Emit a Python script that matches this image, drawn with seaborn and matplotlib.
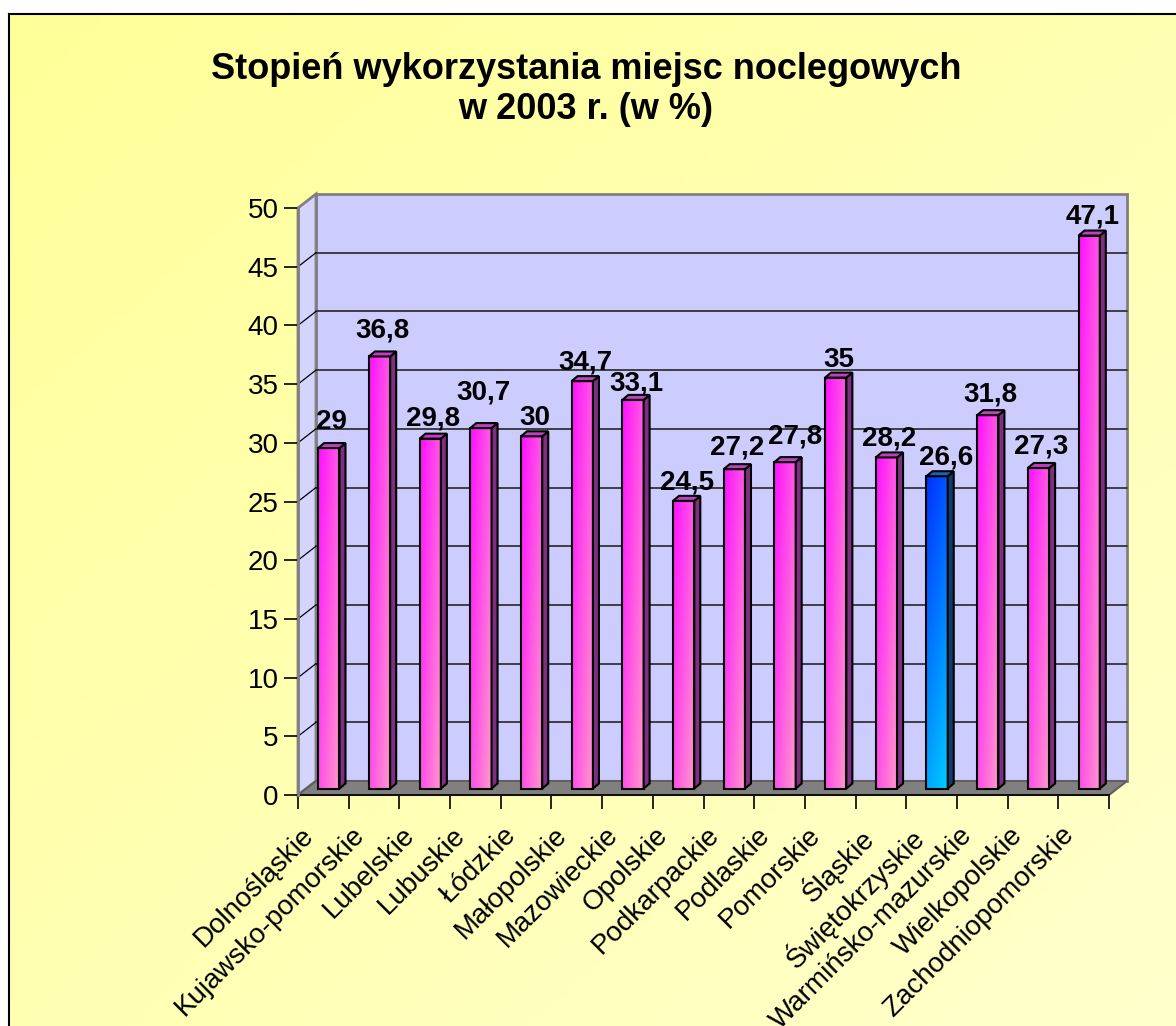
import matplotlib
matplotlib.use('Agg')
import matplotlib.pyplot as plt
import matplotlib.transforms as mtransforms
from matplotlib.colors import LinearSegmentedColormap
from matplotlib.patches import Polygon, Rectangle
import numpy as np
import pandas as pd
import seaborn as sns

# data
regions = ['Dolnośląskie', 'Kujawsko-pomorskie', 'Lubelskie', 'Lubuskie', 'Łódzkie',
           'Małopolskie', 'Mazowieckie', 'Opolskie', 'Podkarpackie', 'Podlaskie',
           'Pomorskie', 'Śląskie', 'Świętokrzyskie', 'Warmińsko-mazurskie',
           'Wielkopolskie', 'Zachodniopomorskie']
values = [29, 36.8, 29.8, 30.7, 30, 34.7, 33.1, 24.5, 27.2, 27.8, 35, 28.2, 26.6, 31.8, 27.3, 47.1]
highlight = 'Świętokrzyskie'
y_ticks = [0, 5, 10, 15, 20, 25, 30, 35, 40, 45, 50]
title = 'Stopień wykorzystania miejsc noclegowych\nw 2003 r. (w %)'

# label placement (pixels) as the original chart nudged them apart
label_dy = [19, 19, 13, 29, 11, 12, 9, 11, 15, 19, 11, 12, 12, 14, 14, 12]
label_dx = [0, 0, 0, 0, 0, 0, 0, 0, 0, 7, 0, 0, 6, 0, 0, 0]

sns.set_theme(style='white')
plt.rcParams['font.family'] = ['Liberation Sans', 'DejaVu Sans']
plt.rcParams['text.color'] = 'black'
plt.rcParams['xtick.color'] = 'black'
plt.rcParams['ytick.color'] = 'black'

W, H = 1176, 1026
fig = plt.figure(figsize=(W / 100, H / 100), dpi=100)
fig.patch.set_facecolor('white')

# yellow gradient frame
bg = fig.add_axes([9 / W, 0, 1 - 9 / W, 1 - 14 / H], zorder=0)
gi, gj = np.mgrid[0:100, 0:100]
yellow = LinearSegmentedColormap.from_list('yel', ['#FFFF99', '#FFFFCC'])
bg.imshow((gi + gj) / 198.0, cmap=yellow, aspect='auto', extent=[0, 1, 0, 1])
bg.set_xticks([])
bg.set_yticks([])
bg.spines['right'].set_visible(False)
bg.spines['bottom'].set_visible(False)
for s in ['left', 'top']:
    bg.spines[s].set_color('black')
    bg.spines[s].set_linewidth(1.5)

ax = fig.add_axes([298 / W, (H - 795) / H, 811 / W, 587 / H], zorder=1)
df = pd.DataFrame({'region': regions, 'value': values})
sns.barplot(data=df, x='region', y='value', ax=ax, width=0.42, color='#FF66FF',
            saturation=1, edgecolor='black', linewidth=1.5, zorder=5)
bars = list(ax.patches)
ax.patch.set_alpha(0)

x0, x1 = -0.5, len(regions) - 0.5
sx = ax.bbox.width / (x1 - x0)
sy = ax.bbox.height / 50.0
dx, dy = 18 / sx, 14 / sy     # wall depth
bx, by = 5.5 / sx, 6.5 / sy   # bar position in depth
ddx, ddy = 6 / sx, 5 / sy     # bar depth

# walls and floor
ax.add_patch(Rectangle((x0 + dx, dy), x1 - x0, 50, fc='#CCCCFF', ec='#808080', lw=2,
                       zorder=0, clip_on=False))
ax.add_patch(Polygon([(x0, 0), (x0, 50), (x0 + dx, 50 + dy), (x0 + dx, dy)],
                     fc='#D4D4FF', ec='#808080', lw=2, zorder=0, clip_on=False))
ax.add_patch(Polygon([(x0, 0), (x1, 0), (x1 + dx, dy), (x0 + dx, dy)],
                     fc='#808080', ec='#606060', lw=1.5, zorder=1, clip_on=False))
for v in y_ticks[1:-1]:
    ax.plot([x0 + dx, x1 + dx], [v + dy, v + dy], color='#333333', lw=1.3, zorder=0.5,
            clip_on=False)
    ax.plot([x0, x0 + dx], [v, v + dy], color='black', lw=0.9, zorder=0.5, clip_on=False)

pink = LinearSegmentedColormap.from_list('pink', ['#FF10FF', '#FF99CC'])
blue = LinearSegmentedColormap.from_list('blue', ['#0030FF', '#00CCFF'])
ri, ci = np.mgrid[0:64, 0:16]
shade = 0.55 * ci / 15.0 + 0.45 * ri / 63.0
shade_blue = 0.25 * ci / 15.0 + 0.75 * ri / 63.0

for p, name, val, ldy, ldx in zip(bars, regions, values, label_dy, label_dx):
    x = p.get_x() + bx
    w = p.get_width()
    h = p.get_height()
    p.set_x(x)
    p.set_y(by)
    p.set_facecolor('none')
    if name == highlight:
        cmap, img, side_c, top_c = blue, shade_blue, '#0B3D6E', '#1565B5'
    else:
        cmap, img, side_c, top_c = pink, shade, '#7F2F7F', '#C040C0'
    im = ax.imshow(img, cmap=cmap, vmin=0, vmax=1, extent=[x, x + w, by, by + h],
                   aspect='auto', zorder=4, origin='upper')
    im.set_clip_path(p)
    ax.add_patch(Polygon([(x + w, by), (x + w, by + h), (x + w + ddx, by + h + ddy),
                          (x + w + ddx, by + ddy)], fc=side_c, ec='black', lw=1.5, zorder=6))
    ax.add_patch(Polygon([(x, by + h), (x + w, by + h), (x + w + ddx, by + h + ddy),
                          (x + ddx, by + h + ddy)], fc=top_c, ec='black', lw=1.5, zorder=6))
    ax.annotate(f'{val:g}'.replace('.', ','), xy=(x + w / 2 + ddx / 2, by + h),
                xytext=(ldx, ldy), textcoords='offset pixels', ha='center', va='baseline',
                fontsize=20, fontweight='bold', color='black', zorder=7, annotation_clip=False)

ax.set_xlim(x0, x1)
ax.set_ylim(0, 50)
ax.set_xlabel('')
ax.set_ylabel('')

for s in ['top', 'right']:
    ax.spines[s].set_visible(False)
ax.spines['left'].set_color('#808080')
ax.spines['left'].set_linewidth(2)
ax.spines['bottom'].set_color('black')
ax.spines['bottom'].set_linewidth(1.2)
ax.spines['bottom'].set_zorder(2)

ax.set_yticks(y_ticks)
ax.tick_params(axis='y', left=True, length=10, width=1.2, color='black', labelsize=20,
               pad=4, labelcolor='black')
ax.set_xticks(range(len(regions)))
ax.set_xticks(np.arange(x0, x1 + 0.5, 1), minor=True)
ax.tick_params(axis='x', which='major', length=0, pad=19.5, labelsize=20, labelcolor='black')
ax.tick_params(axis='x', which='minor', bottom=True, length=10, width=1.2, color='black')
ax.set_xticklabels(regions, rotation=45, ha='right', rotation_mode='anchor')
shift = mtransforms.ScaledTranslation(-23 / 100, 0, fig.dpi_scale_trans)
for lbl in ax.get_xticklabels():
    lbl.set_transform(lbl.get_transform() + shift)

fig.text(586 / W, 1 - 52 / H, title, ha='center', va='top', fontsize=26,
         fontweight='bold', linespacing=1.2, color='black')

fig.savefig('out.png', dpi=100)
